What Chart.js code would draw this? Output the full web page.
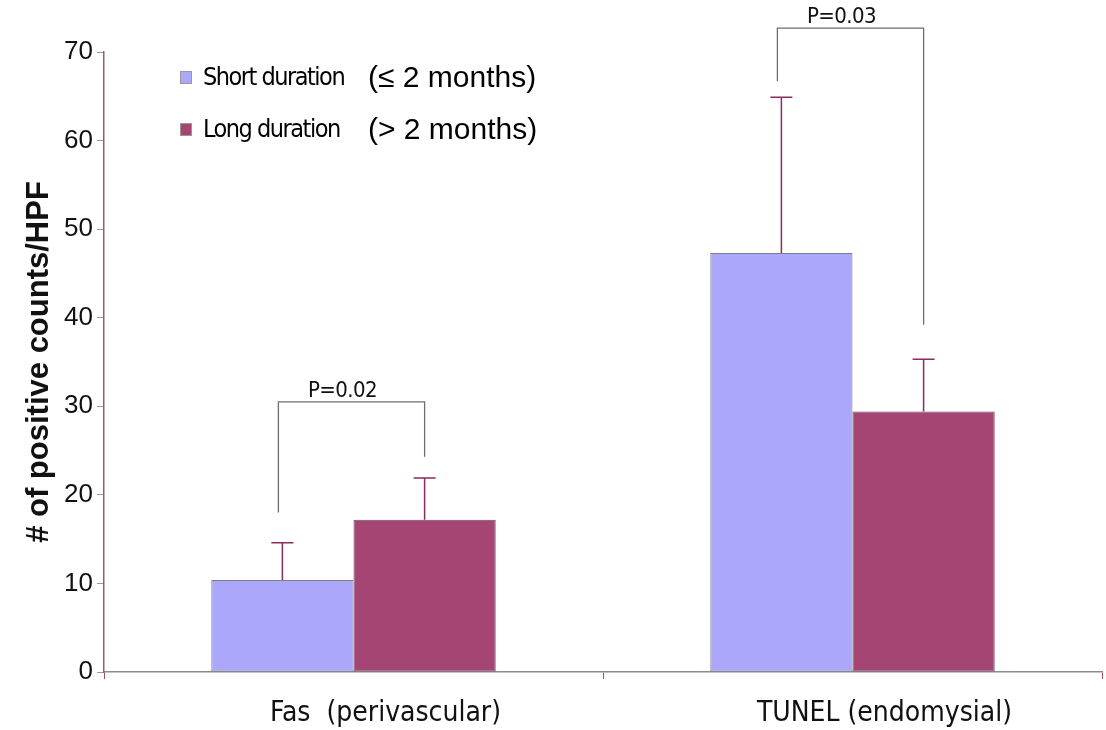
<!DOCTYPE html>
<html>
<head>
<meta charset="utf-8">
<script src="https://cdn.jsdelivr.net/npm/chart.js@4/dist/chart.umd.min.js"></script>
<style>
  html, body { margin: 0; padding: 0; background: #fff; }
  #wrap { width: 1106px; height: 730px; }
</style>
</head>
<body>
<div id="wrap"><canvas id="chart" width="1106" height="730"></canvas></div>
<script>
const categories = ["Fas  (perivascular)", "TUNEL (endomysial)"];
const shortMeans = [10.4, 47.3];
const shortErr = [4.2, 17.6];
const longMeans = [17.2, 29.4];
const longErr = [4.7, 5.9];
const yTicks = [0, 10, 20, 30, 40, 50, 60, 70];

// p-value brackets: top of bracket, bottom of left and right legs
const pLabels = ["P=0.02", "P=0.03"];
const pTop = [30.5, 72.7];
const pLeftEnd = [18, 66.7];
const pRightEnd = [24.3, 39.2];

const shortColor = "#aba8fb";
const longColor = "#a54574";
const errColor = "#8a2d5c";
const narrow = '"DejaVu Sans Condensed", "Liberation Sans Narrow", "Liberation Sans", sans-serif';

/* ===== error bars ===== */
const errorBarPlugin = {
  id: "errorBars",
  afterDatasetsDraw(chart) {
    const ctx = chart.ctx;
    const y = chart.scales.y;
    const errs = [shortErr, longErr];
    ctx.save();
    ctx.strokeStyle = errColor;
    ctx.lineWidth = 1.5;
    chart.data.datasets.forEach((ds, di) => {
      chart.getDatasetMeta(di).data.forEach((bar, i) => {
        const top = y.getPixelForValue(ds.data[i] + errs[di][i]);
        ctx.beginPath();
        ctx.moveTo(bar.x, bar.y);
        ctx.lineTo(bar.x, top);
        ctx.moveTo(bar.x - 11, top);
        ctx.lineTo(bar.x + 11, top);
        ctx.stroke();
      });
    });
    ctx.restore();
  }
};

/* ===== p-value brackets ===== */
const bracketPlugin = {
  id: "brackets",
  afterDraw(chart) {
    const ctx = chart.ctx;
    const y = chart.scales.y;
    const m0 = chart.getDatasetMeta(0).data;
    const m1 = chart.getDatasetMeta(1).data;
    ctx.save();
    ctx.strokeStyle = "#6e6e6e";
    ctx.lineWidth = 1.3;
    pLabels.forEach((lab, i) => {
      const xl = m0[i].x - 4;
      const xr = m1[i].x;
      const yt = y.getPixelForValue(pTop[i]);
      ctx.beginPath();
      ctx.moveTo(xl, y.getPixelForValue(pLeftEnd[i]));
      ctx.lineTo(xl, yt);
      ctx.lineTo(xr, yt);
      ctx.lineTo(xr, y.getPixelForValue(pRightEnd[i]));
      ctx.stroke();
      ctx.fillStyle = "#111";
      ctx.font = "22px " + narrow;
      ctx.letterSpacing = "-0.6px";
      ctx.textAlign = "center";
      ctx.textBaseline = "bottom";
      ctx.fillText(lab, (xl + xr) / 2 - 9, yt);
    });
    ctx.restore();
  }
};

/* ===== legend in upper left ===== */
const legendPlugin = {
  id: "cornerLegend",
  afterDraw(chart) {
    const ctx = chart.ctx;
    const items = [
      { name: "Short duration", note: "(\u2264 2 months)", color: shortColor },
      { name: "Long duration", note: "(> 2 months)", color: longColor }
    ];
    ctx.save();
    items.forEach((it, i) => {
      const cy = 78 + i * 52;
      ctx.fillStyle = it.color;
      ctx.fillRect(180, cy - 7, 12, 13);
      ctx.strokeStyle = "#999";
      ctx.lineWidth = 1;
      ctx.strokeRect(180.5, cy - 6.5, 11, 12);
      ctx.fillStyle = "#000";
      ctx.textAlign = "left";
      ctx.textBaseline = "middle";
      ctx.font = "25px " + narrow;
      ctx.letterSpacing = "-1.5px";
      ctx.fillText(it.name, 203, cy);
      ctx.letterSpacing = "0px";
      ctx.font = '30px "Liberation Sans", Arial, sans-serif';
      ctx.fillText(it.note, 368, cy + 1);
    });
    ctx.restore();
  }
};

new Chart(document.getElementById("chart"), {
  type: "bar",
  data: {
    labels: categories,
    datasets: [
      { label: "Short duration", data: shortMeans, backgroundColor: shortColor,
        borderColor: "#7c7c8c", borderWidth: 1, borderSkipped: false },
      { label: "Long duration", data: longMeans, backgroundColor: longColor,
        borderColor: "#6e4a5c", borderWidth: 1, borderSkipped: false }
    ]
  },
  options: {
    responsive: false,
    animation: false,
    layout: { padding: { top: 52, right: 4, left: 0, bottom: 0 } },
    plugins: {
      legend: { display: false },
      tooltip: { enabled: false }
    },
    datasets: { bar: { categoryPercentage: 0.57, barPercentage: 1.0 } },
    scales: {
      x: {
        offset: true,
        grid: {
          display: true,
          offset: true,
          drawOnChartArea: false,
          drawTicks: true,
          tickLength: 7,
          color: "#9b4f78"
        },
        border: { color: "#8c8c8c", width: 1.5 },
        ticks: {
          color: "#111",
          padding: 18,
          labelOffset: 32,
          font: { family: narrow, size: 28 }
        },
        afterFit(s) { s.height = 58; }
      },
      y: {
        min: 0,
        max: 70,
        afterBuildTicks(s) { s.ticks = yTicks.map(v => ({ value: v })); },
        grid: {
          display: true,
          drawOnChartArea: false,
          tickLength: 7,
          color: "#999"
        },
        border: { color: "#9b5a7d", width: 1.5 },
        ticks: {
          color: "#111",
          padding: 4,
          font: { family: '"Liberation Sans", Arial, sans-serif', size: 26 }
        },
        title: {
          display: true,
          text: "# of positive counts/HPF",
          color: "#111",
          padding: { top: 21, bottom: 0 },
          font: { family: '"Liberation Sans", Arial, sans-serif', size: 31, weight: "bold" }
        },
        afterFit(s) { s.width = 104; }
      }
    }
  },
  plugins: [errorBarPlugin, bracketPlugin, legendPlugin]
});
</script>
</body>
</html>
